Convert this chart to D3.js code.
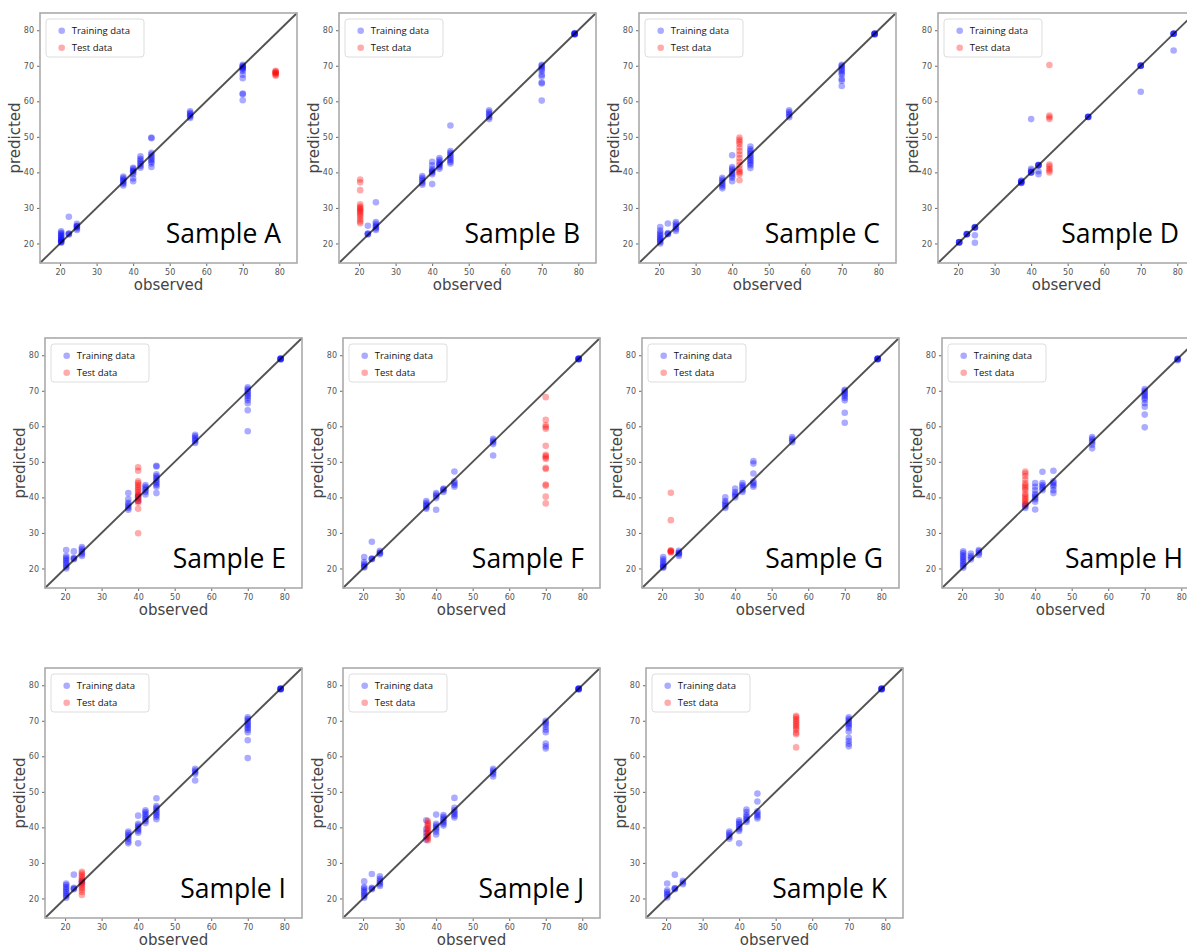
<!DOCTYPE html>
<html>
<head>
<meta charset="utf-8">
<script src="https://cdn.jsdelivr.net/npm/d3@7"></script>
<style>
  html, body { margin: 0; padding: 0; background: #fff; }
  svg { display: block; }
</style>
</head>
<body>
<script>
// ---------------- data ----------------
const axisTicks = [20, 30, 40, 50, 60, 70, 80];
const axisDomain = [14.5, 84.85];
const sampleNames = ["Sample A","Sample B","Sample C","Sample D","Sample E","Sample F",
                     "Sample G","Sample H","Sample I","Sample J","Sample K"];
const seriesNames = ["Training data", "Test data"];

// each entry: [observed, [predicted values...]]  (repeats = overlapping points)
const trainA = [
  [20.3,[20.2,20.4,20.5,20.8,21,21.3,21.6,22,22.3,22.7,23,23.4]],
  [22.4,[22.5,22.7,22.8,27.5]],
  [24.6,[23.8,24.2,24.6,24.8,25,25.5]],
  [37.3,[36.3,36.8,37.2,37.6,38,38.4,38.8]],
  [40,[37.5,38.3,39.5,40,40.3,40.5,41,41.3]],
  [42,[41.3,41.8,42.3,42.8,43.3,43.8,44.5]],
  [45,[41.5,42.5,43,43.5,44,44.5,45,45.5,49.6,49.8]],
  [55.6,[55.3,55.7,56,56.4,56.8,57.2]],
  [70,[60.3,62,62.2,66.5,67.5,68.5,69,69.3,69.5,69.8,70,70.3]]
];
const testA = [[79,[67.2,67.5,67.8,68,68.1,68.4,68.6]]];

const trainB = [
  [22.4,[22.5,22.7,22.8,25]],
  [24.6,[23.8,24.2,24.6,25,25.5,26,31.6]],
  [37.3,[36.5,37,37.5,38,38.5,39]],
  [40,[36.7,39.5,40,40.3,40.5,41,42,43]],
  [42,[41,41.5,42,42.3,42.5,43,43.5,44]],
  [45,[42.5,43,43.5,44,44.5,45,45.5,46,53.2]],
  [55.6,[55,55.5,56,56.5,57,57.5]],
  [70,[60.2,65,65.3,67,67.5,68.5,69,69.5,70,70.3]],
  [79,[78.8,78.9,79,79,79.1,79.2]]
];
const testB = [[20.3,[25.7,26.2,26.8,27.5,28,28.5,29,29.3,29.7,30,30.4,31,35,37.2,38]]];

const trainC = [
  [20.3,[20,20.4,20.8,21.2,21.6,22,22.5,23,23.6,24.6]],
  [22.4,[22.6,22.7,22.9,25.6]],
  [24.6,[23.5,24,24.5,25,25.5,26]],
  [37.3,[35.5,36,36.5,37,37.5,38,38.5]],
  [40,[37.5,38.5,39,39.5,40,40.5,41,41.5,44.8]],
  [45,[41.2,42,42.5,43,43.5,44,44.5,45,45.5,46,46.5,47.3]],
  [55.6,[55.5,56,56.5,57,57.5]],
  [70,[64.3,65.8,66.3,67.5,68,68.5,69,69.5,70,70.3]],
  [79,[78.8,78.9,79,79.1,79.1]]
];
const testC = [[42,[37.8,39.5,40,40.3,41,42,43,44,45,46,47,48,48.6,49.2,49.8]]];

const trainD = [
  [20.3,[20.3,20.3,20.3,20.4]],
  [22.4,[22.6,22.6,22.6,22.7]],
  [24.6,[20.2,22.3,24.5,24.5,24.5,24.6]],
  [37.3,[37,37,37.3,37.3,37.6,37.6]],
  [40,[40,40,40,40.5,41,55]],
  [42,[39.5,40.3,42,42,42,42.1]],
  [55.6,[55.6,55.6,55.6,55.7]],
  [70,[62.7,70,70,70,70.1]],
  [79,[74.3,79,79,79,79.1]]
];
const testD = [[45,[40,40.5,41,41.7,42.2,55,55.5,56,70.2]]];

const trainE = [
  [20.3,[20,20.5,21,21.5,22,22.5,23,23.5,25.2]],
  [22.4,[22.6,22.8,23,24.8]],
  [24.6,[23.5,24,24.5,25,25.5,26]],
  [37.3,[36.5,37,37.5,38,38.5,39.5,41.2]],
  [40,[39,40,40.5]],
  [42,[40.8,41.5,42,42.5,43,43.5]],
  [45,[41.2,43,43.5,44,44.5,45,45.5,46,46.5,48.7,48.9]],
  [55.6,[55.3,55.8,56.2,56.7,57.2,57.6]],
  [70,[58.6,64.5,66.5,67.3,68,68.5,69,69.5,70,70.5,71]],
  [79,[78.8,78.9,79,79.1,79.1]]
];
const testE = [[40,[29.9,36.8,38.5,39,39.5,40,40.5,41,41.5,42,42.5,43,43.5,44,44.5,47.5,48.5]]];

const trainF = [
  [20.3,[20.3,20.5,20.8,21.3,21.8,23.2]],
  [22.4,[22.6,22.7,22.8,27.5]],
  [24.6,[24,24.3,24.5,25]],
  [37.3,[36.8,37.2,37.6,38,38.5,39]],
  [40,[36.5,39.8,40.3,40.8,41.2]],
  [42,[41.5,42,42.3,42.5]],
  [45,[43,43.5,44,44.5,47.3]],
  [55.6,[51.8,55,55.5,56,56.5]],
  [79,[78.8,78.9,79,79.1,79.1]]
];
const testF = [[70,[38.3,40.2,43.3,43.6,48,48.3,50.8,51.2,51.6,52,54.5,59.3,59.8,60.3,61.8,68.2]]];

const trainG = [
  [20.3,[20.2,20.4,20.6,21,21.5,22,22.6,23.2]],
  [24.6,[23.5,24,24.3,24.5,25]],
  [37.3,[37,37.5,38,38.5,39,40]],
  [40,[40,40.5,41,41.5,42.5]],
  [42,[41.5,42,42.5,43,43.5,44]],
  [45,[43,43.5,44,44.5,46.7,49.5,50.2]],
  [55.6,[55.5,56,56.5,57]],
  [70,[61,63.8,67.3,68,68.5,69,69.5,70,70.3]],
  [79,[78.8,78.9,79,79.1,79.1]]
];
const testG = [[22.4,[24.5,24.7,24.8,25,25.1,33.6,41.3]]];

const trainH = [
  [20.3,[20.2,20.7,21.2,21.7,22.2,22.7,23.2,23.7,24.3,24.8]],
  [22.4,[22.5,23,23.5,24.2]],
  [24.6,[23.8,24.3,24.8,25.2]],
  [37.3,[37,37.5,38]],
  [40,[36.6,38.8,39.5,40,40.5,41,42,43,44]],
  [42,[42,42.5,43,43.5,44,47.2]],
  [45,[41.2,42,43,43.5,44,44.5,47.5]],
  [55.6,[53.8,54.8,55.5,56,56.5,57]],
  [70,[59.7,63.3,65.5,66.5,67.5,68,68.5,69,69.5,70,70.5]],
  [79,[78.6,78.8,79,79]]
];
const testH = [[37.3,[38,38.5,39,39.5,40,40.5,41,42,42.5,43,43.5,44,45,46,46.7,47.3]]];

const trainI = [
  [20.3,[20.2,20.7,21.2,21.7,22.2,22.7,23.2,23.8,24.2]],
  [22.4,[22.6,22.8,23,26.7]],
  [24.6,[24.5,25]],
  [37.3,[35.5,36,36.8,37.3,37.8,38.3,38.8]],
  [40,[35.5,38.5,39,39.5,40,40.5,41,43.3]],
  [42,[41.2,41.8,42.3,42.8,43.3,43.8,44.3,44.8]],
  [45,[42.3,43,43.5,44,44.5,45,45.5,46,48.2]],
  [55.6,[53.2,55,55.5,56,56.5]],
  [70,[59.5,64.5,66.8,67.5,68,68.5,69,69.5,70,70.5,71]],
  [79,[78.8,78.9,79,79.1,79.1]]
];
const testI = [[24.6,[21,21.8,22.5,23,23.5,24,24.5,25,25.5,26,26.5,27,27.5]]];

const trainJ = [
  [20.3,[20.2,20.7,21.2,21.7,22.2,22.8,23.2,24.8]],
  [22.4,[22.6,22.8,23,26.9]],
  [24.6,[23.5,24,24.5,25,25.5,26.2]],
  [37.3,[36.5,37.5,38.5,39.5,42]],
  [40,[38,38.8,39.5,40,40.5,41,43.6]],
  [42,[40.5,41,41.5,42,42.5,43,43.5]],
  [45,[42.8,43.3,43.8,44.3,44.8,45.5,48.3]],
  [55.6,[54.3,55,55.5,56,56.5]],
  [70,[62.2,62.8,63.6,66.8,67.5,68.3,69,69.5,70]],
  [79,[78.8,78.9,79,79.1,79.1]]
];
const testJ = [[37.7,[36.3,36.8,37.3,37.8,38.3,38.8,39.3,39.8,40.3,40.8,41.3,41.8]]];

const trainK = [
  [20.3,[20.3,20.8,21.3,21.8,22.3,24.2]],
  [22.4,[22.6,22.8,22.9,26.7]],
  [24.6,[24,24.5,25]],
  [37.3,[36.8,37.3,37.8,38.3,38.8]],
  [40,[35.5,39,39.5,40,40.5,41,41.5,42]],
  [42,[41.5,42,42.5,43,43.5,44.3,45]],
  [45,[42.5,43,43.5,44,44.5,47.3,49.5]],
  [70,[62.8,63.5,64.3,65.2,67,68,68.5,69,69.5,70,70.5,71]],
  [79,[78.8,78.9,79,79.1,79.1]]
];
const testK = [[55.6,[62.5,66.2,66.6,67.5,68,68.5,69,69.5,70,70.5,71,71.4]]];

const trainSets = [trainA,trainB,trainC,trainD,trainE,trainF,trainG,trainH,trainI,trainJ,trainK];
const testSets  = [testA,testB,testC,testD,testE,testF,testG,testH,testI,testJ,testK];

// ---------------- layout (not data) ----------------
const W = 1187, H = 948;
const panelW = 257, panelH = 250;
const panelPos = [
  [40,13],[339,13],[639,13],[938,13],
  [45,338],[343,338],[642,338],[942,338],
  [45,668],[343,668],[646,668]
];
const colors = ["#0000ff", "#ff0000"];

const svg = d3.select("body").append("svg").attr("width", W).attr("height", H);

sampleNames.forEach((name, i) => {
  const [px, py] = panelPos[i];
  const g = svg.append("g").attr("transform", `translate(${px},${py})`);
  const x = d3.scaleLinear().domain(axisDomain).range([0, panelW]);
  const y = d3.scaleLinear().domain(axisDomain).range([panelH, 0]);

  // axes
  const xa = g.append("g").attr("transform", `translate(0,${panelH})`)
    .call(d3.axisBottom(x).tickValues(axisTicks).tickSize(3).tickPadding(3));
  const ya = g.append("g")
    .call(d3.axisLeft(y).tickValues(axisTicks).tickSize(3).tickPadding(3));
  [xa, ya].forEach(a => {
    a.select(".domain").remove();
    a.selectAll("line").attr("stroke", "#666");
    a.selectAll("text").attr("fill", "#555")
      .style("font-family", "DejaVu Sans").style("font-size", "8px");
  });

  // points
  const flat = (sets) => sets.flatMap(([o, ps]) => ps.map(p => [o, p]));
  [trainSets[i], testSets[i]].forEach((set, k) => {
    g.append("g").selectAll("circle").data(flat(set)).join("circle")
      .attr("cx", d => x(d[0])).attr("cy", d => y(d[1])).attr("r", 3.3)
      .attr("fill", colors[k]).attr("fill-opacity", 0.33);
  });

  // diagonal line
  g.append("line")
    .attr("x1", x(axisDomain[0])).attr("y1", y(axisDomain[0]))
    .attr("x2", x(axisDomain[1])).attr("y2", y(axisDomain[1]))
    .attr("stroke", "#000").attr("stroke-opacity", 0.68).attr("stroke-width", 1.9);

  // frame
  g.append("rect").attr("width", panelW).attr("height", panelH)
    .attr("fill", "none").attr("stroke", "#aaa").attr("stroke-width", 1.6);

  // legend
  const lg = g.append("g").attr("transform", "translate(6,6)");
  lg.append("rect").attr("width", 98).attr("height", 38).attr("rx", 3)
    .attr("fill", "#fff").attr("fill-opacity", 0.8).attr("stroke", "#ddd");
  seriesNames.forEach((s, k) => {
    lg.append("circle").attr("cx", 15.7).attr("cy", 11.7 + k * 17).attr("r", 3.3)
      .attr("fill", colors[k]).attr("fill-opacity", 0.33);
    lg.append("text").attr("x", 25.7).attr("y", 11.7 + k * 17).attr("dy", "0.35em")
      .style("font-family", "Open Sans").style("font-size", "9.5px").attr("fill", "#111")
      .text(s);
  });

  // axis labels
  g.append("text").attr("x", panelW / 2).attr("y", panelH + 27)
    .attr("text-anchor", "middle").attr("fill", "#444")
    .style("font-family", "DejaVu Sans").style("font-size", "15px")
    .text("observed");
  g.append("text").attr("transform", `translate(-20,${panelH / 2}) rotate(-90)`)
    .attr("text-anchor", "middle").attr("fill", "#444")
    .style("font-family", "DejaVu Sans").style("font-size", "15px")
    .text("predicted");

  // sample label
  g.append("text").attr("x", 241).attr("y", 230)
    .attr("text-anchor", "end").attr("fill", "#000")
    .style("font-family", "Open Sans").style("font-size", "26.5px")
    .text(name);
});
</script>
</body>
</html>
